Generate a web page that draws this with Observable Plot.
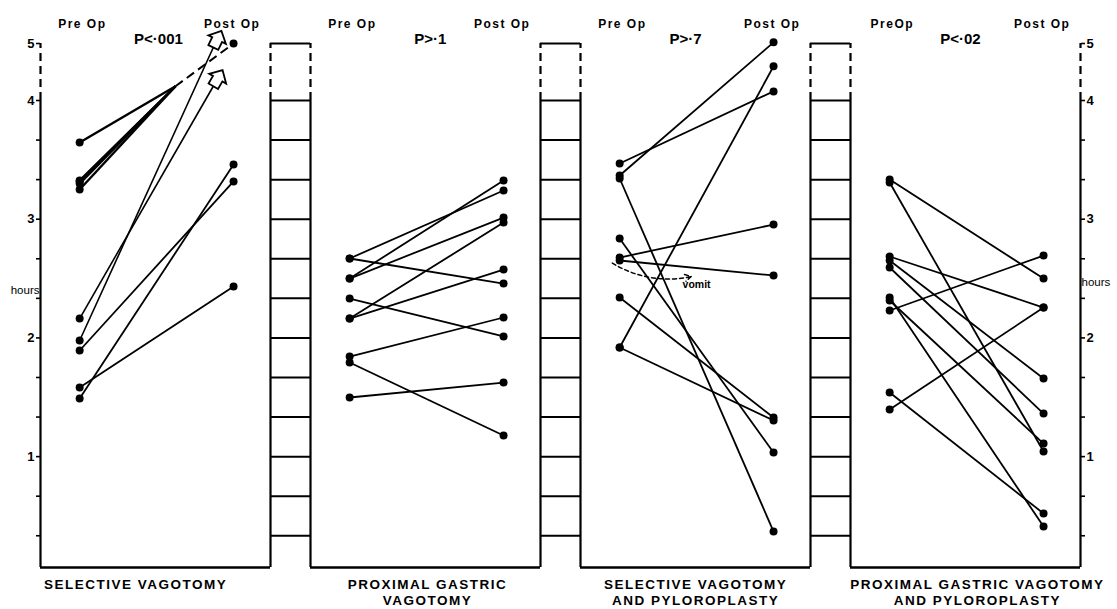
<!DOCTYPE html>
<html><head><meta charset="utf-8">
<script src="https://cdn.jsdelivr.net/npm/d3@7"></script>
<script src="https://cdn.jsdelivr.net/npm/@observablehq/plot@0.6"></script>
<style>
body{margin:0;background:#fff;}
#chart{width:1117px;height:609px;}
</style></head><body><div id="chart"></div>
<script>
// ---------------- data (hours) ----------------
const panelNames = ["SELECTIVE VAGOTOMY", "PROXIMAL GASTRIC\nVAGOTOMY", "SELECTIVE VAGOTOMY\nAND PYLOROPLASTY", "PROXIMAL GASTRIC VAGOTOMY\nAND PYLOROPLASTY"];
const pLabels = ["P<·001", "P>·1", "P>·7", "P<·02"];
const preOpLabels = ["Pre Op", "Pre Op", "Pre Op", "PreOp"];
const postOpLabel = "Post Op";
const hoursLabel = "hours";
const vomitLabel = "vomit";
const tickHours = [1, 2, 3, 4, 5];

// Selective vagotomy
const svPre  = [1.894, 1.582, 1.489];
const svPost = [3.318, 2.433, 3.461];
const svOffScalePre = [3.646, 3.326, 3.320, 3.300, 3.250]; // post-op beyond the scale
const svOffScaleBreak = 4.25;
const svOffScalePost = 5.0;
const svArrowPre = [2.163, 1.978];
const svArrowEnd = [4.25, 4.93];

// Proximal gastric vagotomy
const pgvPre  = [2.669, 2.669, 2.500, 2.500, 2.332, 2.163, 2.163, 1.843, 1.793, 1.498];
const pgvPost = [3.242, 2.458, 3.326, 3.014, 2.012, 2.972, 2.576, 2.172, 1.178, 1.624];

// Selective vagotomy and pyloroplasty
const svpPre  = [3.469, 3.368, 3.343, 2.837, 2.677, 2.652, 2.340, 1.919, 1.919];
const svpPost = [4.16, 5.02, 0.369, 1.035, 2.955, 2.526, 1.329, 4.60, 1.304];
const vomitStart = 2.63;
const vomitEnd = 2.517;

// Proximal gastric vagotomy and pyloroplasty
const pgvpPre  = [3.334, 3.309, 2.686, 2.652, 2.593, 2.340, 2.315, 2.231, 1.540, 1.397];
const pgvpPost = [2.500, 1.043, 2.256, 1.658, 1.363, 0.411, 1.110, 2.694, 0.521, 2.256];

// ---------------- layout ----------------
const PW = 230 / 270;           // panel width in slot units (ladder fills the rest)
const layout = {
  preX: 0.145, postX: 0.715, breakX: 0.5, arrowX: 0.64,
  preLabelX: 0.155, postLabelX: 0.71,
  pX: [0.437, 0.444, 0.389, 0.407],
  nameX: [0.352, 0.433, 0.426, 0.47],
  arrowRotate: [30, 26],
  vomitX1: 0.118, vomitX2: 0.41, vomitTextX: 0.43, vomitTextY: 2.45,
  hoursY: [2.40, 2.47]
};
const bottomH = 0.066;
const thirds = d3.range(1, 13).map(k => k / 3);

// ---------------- tables ----------------
function pairs(i, pre, post) {
  return pre.map((p, k) => ({x1: i + layout.preX, y1: p, x2: i + layout.postX, y2: post[k]}));
}
const links = [
  ...pairs(0, svPre, svPost),
  ...pairs(1, pgvPre, pgvPost),
  ...pairs(2, svpPre, svpPost),
  ...pairs(3, pgvpPre, pgvpPost)
];
const offLinks = svOffScalePre.map(p => ({x1: layout.preX, y1: p, x2: layout.breakX, y2: svOffScaleBreak}));
const offDashed = [{x1: layout.breakX, y1: svOffScaleBreak, x2: layout.postX, y2: svOffScalePost}];
const arrowLinks = svArrowPre.map((p, k) => ({x1: layout.preX, y1: p, x2: layout.arrowX, y2: svArrowEnd[k], r: layout.arrowRotate[k]}));
const dots = [
  ...links.flatMap(d => [{x: d.x1, y: d.y1}, {x: d.x2, y: d.y2}]),
  ...offLinks.map(d => ({x: d.x1, y: d.y1})),
  {x: layout.postX, y: svOffScalePost},
  ...arrowLinks.map(d => ({x: d.x1, y: d.y1}))
];
const edges = [0, 1, 2, 3].flatMap(i => [i, i + PW]);
const ladders = [0, 1, 2];
const rungs = ladders.flatMap(i => thirds.map(h => ({i, h})));
const panelIdx = [0, 1, 2, 3];

const hollowArrow = {
  draw(ctx, size) {
    const s = Math.sqrt(size);
    const w = s * 0.28, hw = s * 0.5, h1 = s * 0.45, h2 = s * 0.95;
    ctx.moveTo(-w, 0); ctx.lineTo(w, 0); ctx.lineTo(w, -h1); ctx.lineTo(hw, -h1);
    ctx.lineTo(0, -h2); ctx.lineTo(-hw, -h1); ctx.lineTo(-w, -h1); ctx.closePath();
  }
};

const isInt = d => Math.abs(d - Math.round(d)) < 1e-6;
const font = "Liberation Sans, Arial, sans-serif";

const chart = Plot.plot({
  width: 1117, height: 609,
  marginLeft: 40, marginRight: 37, marginTop: 43, marginBottom: 42,
  style: {fontFamily: font, background: "white", color: "black"},
  x: {type: "linear", domain: [0, 3 + PW], axis: null},
  y: {type: "linear", domain: [bottomH, 4, 5], range: [567, 100, 43], axis: null},
  marks: [
    // frame: panel sides, axis break, ladders
    Plot.ruleX(edges, {x: d => d, y1: bottomH, y2: 4, strokeWidth: 2.2}),
    Plot.ruleX(edges, {x: d => d, y1: 4, y2: 5, strokeWidth: 2.2, strokeDasharray: "8,5"}),
    Plot.ruleY(ladders, {y: 5, x1: i => i + PW, x2: i => i + 1, strokeWidth: 2.2}),
    Plot.ruleY(rungs, {y: "h", x1: d => d.i + PW, x2: d => d.i + 1, strokeWidth: 2}),
    Plot.ruleY(panelIdx, {y: bottomH, x1: i => i, x2: i => i + PW, strokeWidth: 2.4}),
    // axes
    Plot.axisY([...thirds, 5], {anchor: "left", tickSize: 4, tickPadding: 2, strokeWidth: 1.6,
      tickFormat: d => isInt(d) ? String(Math.round(d)) : "", fontSize: 13, fontWeight: "bold", label: null}),
    Plot.axisY([...thirds, 5], {anchor: "right", tickSize: 4, tickPadding: 2, strokeWidth: 1.6,
      tickFormat: d => isInt(d) ? String(Math.round(d)) : "", fontSize: 13, fontWeight: "bold", label: null}),
    Plot.text([hoursLabel], {x: 0, y: layout.hoursY[0], textAnchor: "end", dx: -1, fontSize: 11.5}),
    Plot.text([hoursLabel], {x: 3 + PW, y: layout.hoursY[1], textAnchor: "start", dx: 1, fontSize: 11.5}),
    // data lines
    Plot.link(links, {x1: "x1", y1: "y1", x2: "x2", y2: "y2", stroke: "black", strokeWidth: 1.8}),
    Plot.link(offLinks, {x1: "x1", y1: "y1", x2: "x2", y2: "y2", stroke: "black", strokeWidth: 2.4}),
    Plot.link(offDashed, {x1: "x1", y1: "y1", x2: "x2", y2: "y2", stroke: "black", strokeWidth: 2, strokeDasharray: "9,5"}),
    Plot.link(arrowLinks, {x1: "x1", y1: "y1", x2: "x2", y2: "y2", stroke: "black", strokeWidth: 1.6}),
    Plot.dot(arrowLinks, {x: "x2", y: "y2", symbol: hollowArrow, r: 11, rotate: "r", fill: "white", stroke: "black", strokeWidth: 1.8}),
    Plot.dot(dots, {x: "x", y: "y", r: 4, fill: "black"}),
    // vomit annotation
    Plot.arrow([{x1: 2 + layout.vomitX1, y1: vomitStart, x2: 2 + layout.vomitX2, y2: vomitEnd}],
      {x1: "x1", y1: "y1", x2: "x2", y2: "y2", bend: -22, strokeWidth: 1.5, strokeDasharray: "4,3", headLength: 7}),
    Plot.text([vomitLabel], {x: 2 + layout.vomitTextX, y: layout.vomitTextY, fontSize: 10.5, fontWeight: "bold"}),
    // headers
    Plot.text(panelIdx, {x: i => i + layout.preLabelX, text: i => preOpLabels[i], frameAnchor: "top", dy: -24, fontSize: 12, fontWeight: "bold", ariaLabel: () => "op-labels"}),
    Plot.text(panelIdx, {x: i => i + layout.postLabelX, text: () => postOpLabel, frameAnchor: "top", dy: -24, fontSize: 12, fontWeight: "bold", ariaLabel: () => "op-labels"}),
    Plot.text(panelIdx, {x: i => i + layout.pX[i], text: i => pLabels[i], frameAnchor: "top", dy: -10, fontSize: 15, fontWeight: "bold"}),
    // panel names
    Plot.text(panelIdx, {x: i => i + layout.nameX[i], text: i => panelNames[i], frameAnchor: "bottom", dy: 10, lineAnchor: "top", lineHeight: 1.2, fontSize: 13.5, fontWeight: "bold", ariaLabel: () => "panel-names"})
  ]
});
document.getElementById("chart").appendChild(chart);
// widen the letter spacing of the header and footer labels, as in the printed figure
d3.select(chart).selectAll('[aria-label="panel-names"], [aria-label="panel-names"] tspan').style("letter-spacing", "1.5px");
d3.select(chart).selectAll('[aria-label="op-labels"]').style("letter-spacing", "1.5px");
</script>
</body></html>
